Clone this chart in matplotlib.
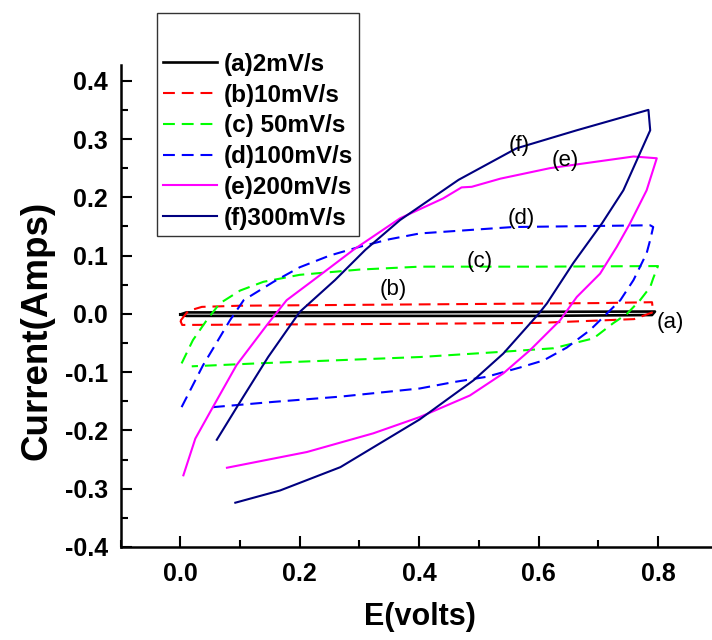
import matplotlib
matplotlib.use("Agg")
import matplotlib.pyplot as plt

plt.rcParams['font.family'] = ['Liberation Sans', 'DejaVu Sans']

# (a) 2mV/s
a_v = [0.0, 0.01, 0.2, 0.4, 0.6, 0.795, 0.79, 0.6, 0.4, 0.2, 0.01, 0.0]
a_i = [-0.001, 0.0025, 0.0025, 0.003, 0.0035, 0.004, -0.002, -0.0035, -0.0035, -0.0035, -0.0035, -0.001]

# (b) 10mV/s
b_v = [0.0, 0.013, 0.036, 0.1, 0.3, 0.5, 0.7, 0.79, 0.792, 0.76, 0.6, 0.4, 0.2, 0.003, 0.0]
b_i = [-0.012, 0.005, 0.012, 0.014, 0.0155, 0.017, 0.0185, 0.02, 0.003, -0.009, -0.0155, -0.017, -0.018, -0.019, -0.012]

# (c) 50mV/s
c_v = [0.002, 0.021, 0.044, 0.066, 0.1, 0.139, 0.2, 0.3, 0.401, 0.474, 0.6, 0.8,
       0.792, 0.787, 0.77, 0.748, 0.725, 0.692, 0.625, 0.54, 0.402, 0.128, 0.019]
c_i = [-0.085, -0.045, -0.011, 0.018, 0.04, 0.055, 0.067, 0.076, 0.081, 0.081, 0.081, 0.082,
       0.061, 0.046, 0.0235, 0.0, -0.016, -0.042, -0.059, -0.065, -0.074, -0.085, -0.09]

# (d) 100mV/s
d_v = [0.002, 0.022, 0.038, 0.058, 0.083, 0.106, 0.156, 0.2, 0.25, 0.3, 0.35, 0.401, 0.557, 0.787,
       0.792, 0.787, 0.781, 0.759, 0.737, 0.709, 0.686, 0.647, 0.608, 0.569, 0.513, 0.458,
       0.401, 0.268, 0.156, 0.044]
d_i = [-0.16, -0.12, -0.088, -0.054, -0.011, 0.0235, 0.055, 0.08, 0.1, 0.115, 0.128, 0.138, 0.149, 0.152,
       0.149, 0.127, 0.104, 0.058, 0.0235, -0.005, -0.028, -0.058, -0.08, -0.092, -0.108, -0.117,
       -0.128, -0.142, -0.151, -0.161]

# (e) 200mV/s
e_v = [0.005, 0.025, 0.05, 0.094, 0.145, 0.178, 0.223, 0.29, 0.368, 0.44, 0.471, 0.488,
       0.536, 0.619, 0.703, 0.759, 0.798, 0.781, 0.753, 0.731, 0.703, 0.664, 0.636, 0.586,
       0.541, 0.485, 0.401, 0.323, 0.212, 0.078]
e_i = [-0.277, -0.214, -0.168, -0.088, -0.019, 0.0235, 0.058, 0.11, 0.164, 0.198, 0.217, 0.218,
       0.232, 0.25, 0.262, 0.27, 0.267, 0.212, 0.155, 0.115, 0.069, 0.029, -0.011, -0.062,
       -0.102, -0.14, -0.177, -0.205, -0.237, -0.264]

# (f) 300mV/s
f_v = [0.061, 0.1, 0.147, 0.2, 0.259, 0.31, 0.368, 0.466, 0.563, 0.664, 0.784, 0.787,
       0.742, 0.706, 0.658, 0.614, 0.6, 0.541, 0.491, 0.401, 0.268, 0.167, 0.092]
f_i = [-0.216, -0.151, -0.074, 0.0035, 0.058, 0.11, 0.161, 0.23, 0.284, 0.315, 0.35, 0.315,
       0.212, 0.155, 0.087, 0.018, 0.0, -0.068, -0.114, -0.181, -0.263, -0.303, -0.324]

curve_labels = ["(a)", "(b)", "(c)", "(d)", "(e)", "(f)"]
label_v = [0.82, 0.356, 0.502, 0.571, 0.644, 0.567]
label_i = [-0.014, 0.042, 0.089, 0.163, 0.264, 0.289]

W, H = 712, 640
fig = plt.figure(figsize=(W / 100, H / 100), dpi=100)
ax = fig.add_axes([120.7 / W, (H - 547) / H, (W - 120.7) / W, (547 - 65) / H])

dash = (0, (5.7, 3.3))
ax.plot(a_v, a_i, color="black", lw=1.9, label="(a)2mV/s")
ax.plot(b_v, b_i, color="#ff0000", lw=1.5, ls=dash, label="(b)10mV/s")
ax.plot(c_v, c_i, color="#00ff00", lw=1.5, ls=dash, label="(c) 50mV/s")
ax.plot(d_v, d_i, color="#0000ff", lw=1.5, ls=dash, label="(d)100mV/s")
ax.plot(e_v, e_i, color="#ff00ff", lw=1.5, label="(e)200mV/s")
ax.plot(f_v, f_i, color="#000080", lw=1.5, label="(f)300mV/s")

for t, x, y in zip(curve_labels, label_v, label_i):
    ax.text(x, y, t, fontsize=16, ha="center", va="center")

ax.set_xlim(-0.1, 0.8905)
ax.set_ylim(-0.4, 0.427)
ax.set_xticks([0.0, 0.2, 0.4, 0.6, 0.8])
ax.set_xticks([-0.1, 0.1, 0.3, 0.5, 0.7], minor=True)
ax.set_yticks([-0.4, -0.3, -0.2, -0.1, 0.0, 0.1, 0.2, 0.3, 0.4])
ax.set_yticks([-0.35, -0.25, -0.15, -0.05, 0.05, 0.15, 0.25, 0.35], minor=True)
ax.set_xticklabels(["0.0", "0.2", "0.4", "0.6", "0.8"])
ax.set_yticklabels(["-0.4", "-0.3", "-0.2", "-0.1", "0.0", "0.1", "0.2", "0.3", "0.4"])

for s in ["top", "right"]:
    ax.spines[s].set_visible(False)
for s in ["left", "bottom"]:
    ax.spines[s].set_linewidth(1.8)

ax.tick_params(which="major", direction="in", length=8, width=1.5, labelsize=18)
ax.tick_params(axis="x", which="major", pad=11)
ax.tick_params(axis="y", which="major", pad=9)
ax.tick_params(which="minor", direction="in", length=5, width=1.5)
for lab in ax.get_xticklabels() + ax.get_yticklabels():
    lab.set_fontweight("bold")

ax.set_xlabel("E(volts)", fontsize=22, fontweight="bold")
ax.set_ylabel("Current(Amps)", fontsize=26.5, fontweight="bold")
ax.xaxis.set_label_coords(0.506, -0.145)
ax.yaxis.set_label_coords(-0.1415, 0.45)
ax.xaxis.label.set_va("center")
ax.yaxis.label.set_va("center")

leg = ax.legend(loc="upper left", bbox_to_anchor=(157 / W, 1 - 13 / H),
                bbox_transform=fig.transFigure, borderaxespad=0,
                prop={"weight": "bold", "size": 17.5}, title=" ", title_fontsize=20,
                frameon=True, fancybox=False, edgecolor="black",
                handlelength=2.2, handletextpad=0.3, labelspacing=0.32, borderpad=0.25)
leg.get_frame().set_linewidth(1.0)

fig.savefig("out.png", dpi=100)
